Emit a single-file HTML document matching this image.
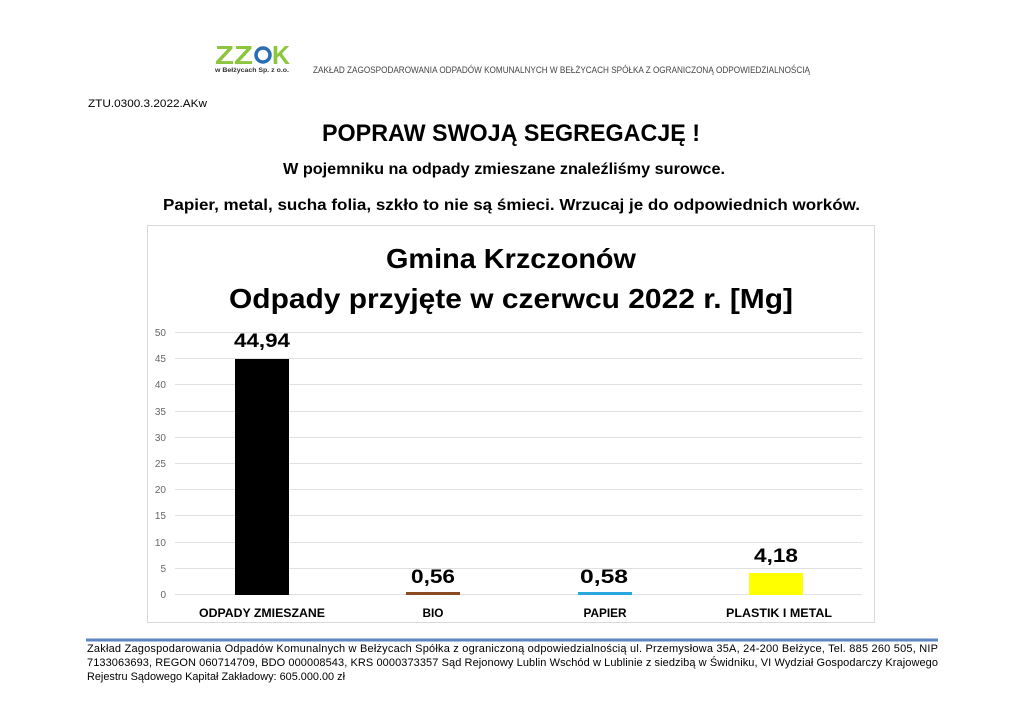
<!DOCTYPE html>
<html><head><meta charset="utf-8"><style>
html,body{margin:0;padding:0;background:#fff}
svg{display:block}
</style></head><body>
<svg width="1024" height="724" viewBox="0 0 1024 724" xmlns="http://www.w3.org/2000/svg" font-family="Liberation Sans, sans-serif">
<rect width="1024" height="724" fill="#fff"/>
<!-- logo -->
<text x="215" y="64" font-size="26" font-weight="bold" fill="#8cc63f" textLength="38" lengthAdjust="spacingAndGlyphs">ZZ</text>
<circle cx="263" cy="55" r="7" fill="none" stroke="#2a6db5" stroke-width="3.5"/>
<text x="272" y="64" font-size="26" font-weight="bold" fill="#8cc63f" textLength="18" lengthAdjust="spacingAndGlyphs">K</text>
<text x="215" y="72" font-size="6.5" font-weight="bold" fill="#333" textLength="74" lengthAdjust="spacingAndGlyphs">w Bełżycach Sp. z o.o.</text>
<text x="313" y="73" font-size="9" fill="#444" textLength="497" lengthAdjust="spacingAndGlyphs">ZAKŁAD ZAGOSPODAROWANIA ODPADÓW KOMUNALNYCH W BEŁŻYCACH SPÓŁKA Z OGRANICZONĄ ODPOWIEDZIALNOŚCIĄ</text>

<text x="88" y="107" font-size="11" fill="#000" textLength="119" lengthAdjust="spacingAndGlyphs">ZTU.0300.3.2022.AKw</text>
<text x="322" y="141" font-size="24" font-weight="bold" fill="#000" textLength="378" lengthAdjust="spacingAndGlyphs">POPRAW SWOJĄ SEGREGACJĘ !</text>
<text x="283" y="174" font-size="16" font-weight="bold" fill="#000" textLength="442" lengthAdjust="spacingAndGlyphs">W pojemniku na odpady zmieszane znaleźliśmy surowce.</text>
<text x="163" y="210" font-size="16" font-weight="bold" fill="#000" textLength="697" lengthAdjust="spacingAndGlyphs">Papier, metal, sucha folia, szkło to nie są śmieci. Wrzucaj je do odpowiednich worków.</text>

<!-- chart -->
<rect x="147.5" y="225.5" width="727" height="397" fill="#fff" stroke="#d9d9d9"/>
<text x="386" y="268" font-size="28" font-weight="bold" fill="#000" textLength="250" lengthAdjust="spacingAndGlyphs">Gmina Krzczonów</text>
<text x="229" y="308" font-size="28" font-weight="bold" fill="#000" textLength="564" lengthAdjust="spacingAndGlyphs">Odpady przyjęte w czerwcu 2022 r. [Mg]</text>
<g stroke="#e0e0e0" stroke-width="1">
<line x1="175" x2="862" y1="332.5" y2="332.5"/><line x1="175" x2="862" y1="358.5" y2="358.5"/>
<line x1="175" x2="862" y1="384.5" y2="384.5"/><line x1="175" x2="862" y1="411.5" y2="411.5"/>
<line x1="175" x2="862" y1="437.5" y2="437.5"/><line x1="175" x2="862" y1="463.5" y2="463.5"/>
<line x1="175" x2="862" y1="489.5" y2="489.5"/><line x1="175" x2="862" y1="515.5" y2="515.5"/>
<line x1="175" x2="862" y1="542.5" y2="542.5"/><line x1="175" x2="862" y1="568.5" y2="568.5"/>
<line x1="175" x2="862" y1="594.5" y2="594.5"/>
</g>
<g font-size="10" fill="#666" text-anchor="end">
<text x="166" y="336">50</text><text x="166" y="362">45</text><text x="166" y="388">40</text>
<text x="166" y="415">35</text><text x="166" y="441">30</text><text x="166" y="467">25</text>
<text x="166" y="493">20</text><text x="166" y="519">15</text><text x="166" y="546">10</text>
<text x="166" y="572">5</text><text x="166" y="598">0</text>
</g>
<rect x="235" y="359" width="54" height="236" fill="#000"/>
<rect x="406" y="592" width="54" height="3" fill="#8b4a1f"/>
<rect x="578" y="592" width="54" height="3" fill="#29a8e0"/>
<rect x="749" y="573" width="54" height="22" fill="#ffff00"/>
<g font-size="19" font-weight="bold" fill="#000" text-anchor="middle">
<text x="262" y="347" textLength="56" lengthAdjust="spacingAndGlyphs">44,94</text>
<text x="433" y="583" textLength="44" lengthAdjust="spacingAndGlyphs">0,56</text>
<text x="604" y="583" textLength="48" lengthAdjust="spacingAndGlyphs">0,58</text>
<text x="776" y="562" textLength="44" lengthAdjust="spacingAndGlyphs">4,18</text>
</g>
<g font-size="12" font-weight="bold" fill="#000" text-anchor="middle">
<text x="262" y="617" textLength="126" lengthAdjust="spacingAndGlyphs">ODPADY ZMIESZANE</text>
<text x="433" y="617" textLength="21" lengthAdjust="spacingAndGlyphs">BIO</text>
<text x="605" y="617" textLength="43" lengthAdjust="spacingAndGlyphs">PAPIER</text>
<text x="779" y="617" textLength="106" lengthAdjust="spacingAndGlyphs">PLASTIK I METAL</text>
</g>

<!-- footer -->
<rect x="86" y="638.5" width="852" height="3" fill="#5b86c0"/>
<g font-size="11" fill="#000">
<text x="87" y="652" textLength="851" lengthAdjust="spacing">Zakład Zagospodarowania Odpadów Komunalnych w Bełżycach Spółka z ograniczoną odpowiedzialnością ul. Przemysłowa 35A, 24-200 Bełżyce, Tel. 885 260 505, NIP</text>
<text x="87" y="666" textLength="851" lengthAdjust="spacing">7133063693, REGON 060714709, BDO 000008543, KRS 0000373357 Sąd Rejonowy Lublin Wschód w Lublinie z siedzibą w Świdniku, VI Wydział Gospodarczy Krajowego</text>
<text x="87" y="680" textLength="258" lengthAdjust="spacingAndGlyphs">Rejestru Sądowego Kapitał Zakładowy: 605.000.00 zł</text>
</g>
</svg>
</body></html>
